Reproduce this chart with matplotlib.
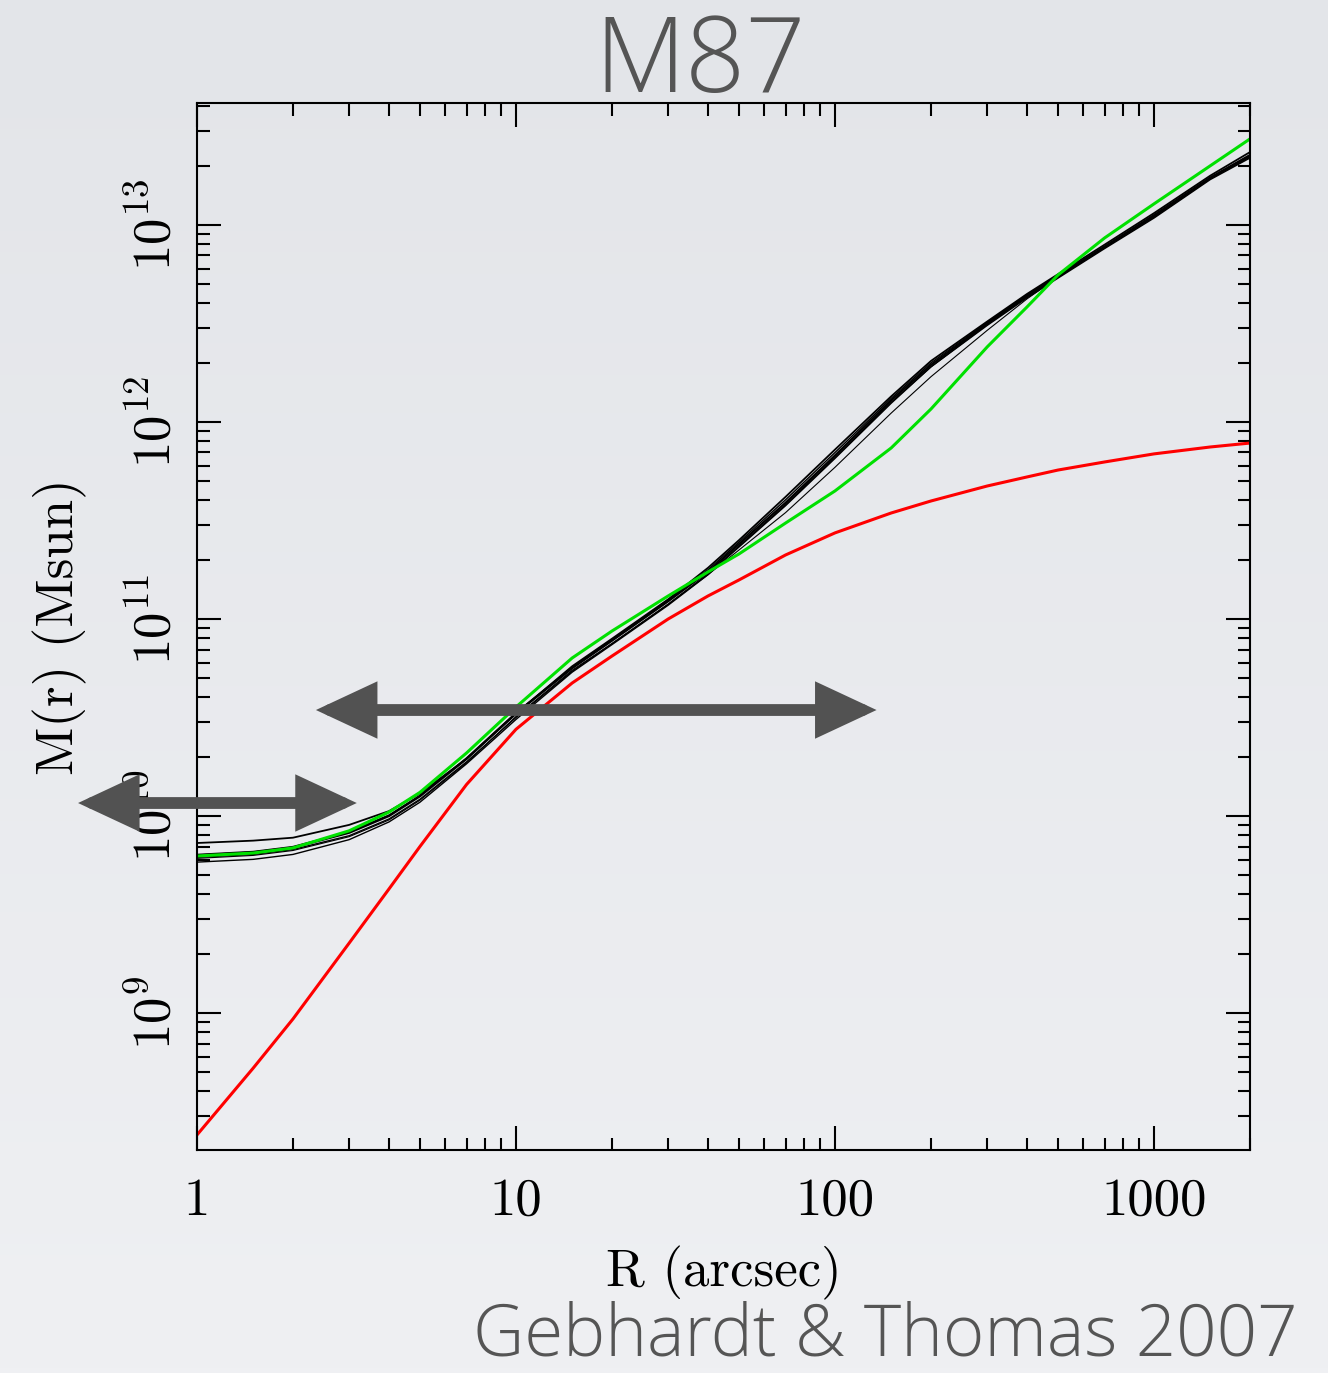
import numpy as np
import matplotlib
matplotlib.use("Agg")
import matplotlib.pyplot as plt
from matplotlib.colors import LinearSegmentedColormap
from matplotlib.ticker import FixedLocator, FixedFormatter, LogLocator, NullFormatter

plt.rcParams['font.family'] = ['cmr10', 'DejaVu Serif']
plt.rcParams['mathtext.fontset'] = 'cm'
plt.rcParams['axes.formatter.use_mathtext'] = True

# radius (arcsec) at which the enclosed mass profiles are sampled
r_arcsec = [1, 1.5, 2, 3, 4, 5, 7, 10, 15, 20, 30, 40, 50, 70, 100, 150,
            200, 300, 400, 500, 700, 1000, 1500, 2000]

# log10 M(r) [Msun] for the family of best-fit models (black)
model_a = [9.863, 9.875, 9.89, 9.955, 10.025, 10.115, 10.29, 10.52, 10.76, 10.90,
           11.10, 11.26, 11.40, 11.62, 11.86, 12.13, 12.31, 12.51, 12.65, 12.75,
           12.90, 13.06, 13.25, 13.37]
model_b = [9.80, 9.815, 9.84, 9.915, 10.00, 10.10, 10.29, 10.52, 10.75, 10.89,
           11.09, 11.24, 11.38, 11.59, 11.83, 12.11, 12.29, 12.50, 12.64, 12.74,
           12.89, 13.05, 13.24, 13.355]
model_c = [9.79, 9.805, 9.83, 9.90, 9.985, 10.085, 10.275, 10.50, 10.735, 10.875,
           11.075, 11.23, 11.37, 11.58, 11.82, 12.10, 12.28, 12.495, 12.635, 12.735,
           12.885, 13.04, 13.235, 13.345]
model_d = [9.805, 9.82, 9.845, 9.92, 10.005, 10.105, 10.295, 10.525, 10.755, 10.895,
           11.095, 11.25, 11.39, 11.605, 11.845, 12.12, 12.30, 12.505, 12.645, 12.745,
           12.89, 13.045, 13.24, 13.35]
model_e = [9.766, 9.78, 9.805, 9.88, 9.97, 10.07, 10.265, 10.49, 10.73, 10.87,
           11.07, 11.225, 11.365, 11.575, 11.815, 12.095, 12.28, 12.49, 12.63, 12.73,
           12.88, 13.035, 13.23, 13.34]
model_f = [9.785, 9.80, 9.825, 9.895, 9.98, 10.08, 10.27, 10.505, 10.74, 10.875,
           11.075, 11.225, 11.35, 11.54, 11.77, 12.045, 12.23, 12.465, 12.625, 12.735,
           12.885, 13.04, 13.235, 13.345]

# total mass model (green) and stellar mass (red)
total_mass = [9.797, 9.812, 9.838, 9.925, 10.02, 10.12, 10.32, 10.553, 10.802, 10.939,
              11.117, 11.239, 11.330, 11.487, 11.650, 11.868, 12.066, 12.381, 12.584, 12.746,
              12.934, 13.107, 13.30, 13.437]
stellar_mass = [8.381, 8.72, 8.97, 9.355, 9.63, 9.845, 10.16, 10.44, 10.675, 10.812,
                11.000, 11.117, 11.198, 11.325, 11.437, 11.538, 11.599, 11.675, 11.721, 11.756,
                11.797, 11.838, 11.873, 11.893]

# radial ranges marked with arrows: (r_min, r_max, log10 M)
inner_range = (0.424, 3.17, 10.066)
outer_range = (2.36, 135.0, 10.538)

x_ticks = [1, 10, 100, 1000]
x_labels = ['1', '10', '100', '1000']
y_exps = [9, 10, 11, 12, 13]

fig = plt.figure(figsize=(13.28, 13.73), dpi=100)

# soft grey backdrop
bg = fig.add_axes([0, 0, 1, 1], zorder=-10)
shade = np.linspace(0, 1, 256).reshape(-1, 1)
bg.imshow(shade, aspect='auto', extent=[0, 1, 0, 1], origin='upper',
          cmap=LinearSegmentedColormap.from_list('bg', ['#e3e5e9', '#eff0f3']))
bg.axis('off')

ax = fig.add_axes([0.1483, 0.1624, 0.793, 0.7626])
ax.set_facecolor('none')
ax.set_xscale('log')
ax.set_yscale('log')

r = np.array(r_arcsec)
for m, lw in [(model_a, 1.3), (model_b, 1.6), (model_c, 1.0), (model_d, 1.0),
              (model_e, 1.0), (model_f, 0.8)]:
    ax.plot(r, 10 ** np.array(m), color='black', lw=lw)
ax.plot(r, 10 ** np.array(total_mass), color='#00e000', lw=2.2)
ax.plot(r, 10 ** np.array(stellar_mass), color='#ff0000', lw=2.2)

ax.set_xlim(1, 2000)
ax.set_ylim(2.017e8, 4.16e13)

ax.xaxis.set_major_locator(FixedLocator(x_ticks))
ax.xaxis.set_major_formatter(FixedFormatter(x_labels))
ax.xaxis.set_minor_locator(LogLocator(base=10, subs=np.arange(2, 10)))
ax.xaxis.set_minor_formatter(NullFormatter())
ax.yaxis.set_major_locator(FixedLocator([10.0 ** e for e in y_exps]))
ax.yaxis.set_major_formatter(FixedFormatter([r'$\mathrm{10^{%d}}$' % e for e in y_exps]))
ax.yaxis.set_minor_locator(LogLocator(base=10, subs=np.arange(2, 10)))
ax.yaxis.set_minor_formatter(NullFormatter())

ax.tick_params(which='both', direction='in', top=True, right=True, width=1.5,
               labelsize=38)
ax.tick_params(which='major', length=17)
ax.tick_params(which='minor', length=9)
ax.tick_params(axis='x', pad=20)
ax.tick_params(axis='y', pad=12, labelrotation=90)
for t in ax.yaxis.get_major_ticks():
    t.label1.set_va('center')
for sp in ax.spines.values():
    sp.set_linewidth(1.5)

ax.set_xlabel('R (arcsec)', fontsize=38, labelpad=15)
ax.set_ylabel('M(r) (Msun)', fontsize=38, labelpad=30)

# double-headed arrows marking the radial coverage
for r0, r1, lm in [inner_range, outer_range]:
    ax.annotate('', xy=(r1, 10 ** lm), xytext=(r0, 10 ** lm), xycoords='data',
                annotation_clip=False,
                arrowprops=dict(arrowstyle='<|-|>,head_length=3.0,head_width=1.4',
                                mutation_scale=10, lw=8.5, color='#525252',
                                shrinkA=0, shrinkB=0, joinstyle='miter'))

fig.text(0.527, 0.953, 'M87', ha='center', va='center', fontsize=76,
         family=['Open Sans', 'DejaVu Sans'], fontweight='light', color='#555555')
fig.text(0.977, 0.0, 'Gebhardt & Thomas 2007', ha='right', va='bottom',
         fontsize=51, family=['Open Sans', 'DejaVu Sans'], fontweight='light',
         color='#555555')

fig.savefig('out.png', dpi=100)
